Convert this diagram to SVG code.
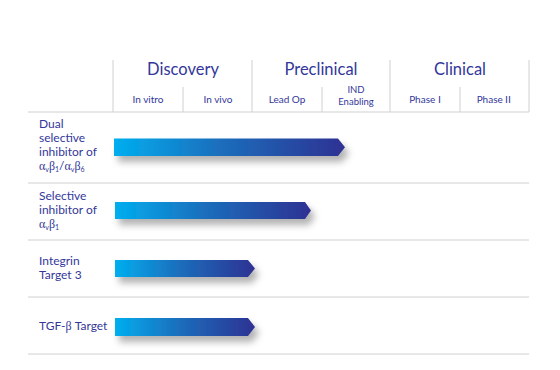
<svg xmlns="http://www.w3.org/2000/svg" width="560" height="370" viewBox="0 0 560 370">
<style>
.t{font-family:Lato,"Open Sans",sans-serif;fill:#33379a}
.h{font-size:16.5px;text-anchor:middle}
.s{font-size:10px;text-anchor:middle}
.s2{font-size:9.5px;text-anchor:middle}
.l{font-size:12px}
.g{font-family:"Liberation Serif",serif}
.sub{font-size:7px}
.ln{stroke:#d0d0d0;stroke-width:1;fill:none}
.bar{fill:url(#grad);filter:url(#sh)}
</style>
<defs>
<linearGradient id="grad" x1="0" y1="0" x2="1" y2="0">
<stop offset="0" stop-color="#00aeef"/>
<stop offset="0.45" stop-color="#1b6fbd"/>
<stop offset="1" stop-color="#2e3192"/>
</linearGradient>
<filter id="sh" x="-10%" y="-50%" width="125%" height="280%">
<feDropShadow dx="4" dy="6" stdDeviation="3.5" flood-color="#000" flood-opacity="0.3"/>
</filter>
</defs>
<rect width="560" height="370" fill="#fff"/>
<g id="grid">
<line class="ln" x1="113" y1="60" x2="113" y2="112"/>
<line class="ln" x1="252" y1="60" x2="252" y2="112"/>
<line class="ln" x1="390" y1="60" x2="390" y2="112"/>
<line class="ln" x1="529" y1="60" x2="529" y2="112"/>
<line class="ln" x1="183" y1="87" x2="183" y2="112"/>
<line class="ln" x1="322" y1="87" x2="322" y2="112"/>
<line class="ln" x1="460" y1="87" x2="460" y2="112"/>
<line class="ln" x1="28" y1="112" x2="529" y2="112"/>
<line class="ln" x1="28" y1="183" x2="529" y2="183"/>
<line class="ln" x1="28" y1="240" x2="529" y2="240"/>
<line class="ln" x1="28" y1="297" x2="529" y2="297"/>
<line class="ln" x1="28" y1="354" x2="529" y2="354"/>
</g>
<g id="header">
<text class="t h" x="183" y="75">Discovery</text>
<text class="t h" x="321" y="75">Preclinical</text>
<text class="t h" x="460" y="75">Clinical</text>
<text class="t s" x="148" y="103">In vitro</text>
<text class="t s" x="218" y="103">In vivo</text>
<text class="t s" x="287" y="103">Lead Op</text>
<text class="t s2" x="356" y="93">IND</text>
<text class="t s2" x="356" y="104.5">Enabling</text>
<text class="t s" x="425" y="103">Phase Ⅰ</text>
<text class="t s" x="494" y="103">Phase ⅠⅠ</text>
</g>
<g id="row1">
<text class="t l" x="39" y="128">Dual</text>
<text class="t l" x="39" y="142">selective</text>
<text class="t l" x="39" y="156">inhibitor of</text>
<text class="t l" x="39" y="170"><tspan class="g">α</tspan><tspan class="sub" dy="2">v</tspan><tspan class="g" dy="-2">β</tspan><tspan class="sub" dy="2">1</tspan><tspan dy="-2">/</tspan><tspan class="g">α</tspan><tspan class="sub" dy="2">v</tspan><tspan class="g" dy="-2">β</tspan><tspan class="sub" dy="2">6</tspan></text>
<path class="bar" d="M114,138.5 H338 L345,147.25 L338,156 H114 Z"/>
</g>
<g id="row2">
<text class="t l" x="39" y="200">Selective</text>
<text class="t l" x="39" y="214">inhibitor of</text>
<text class="t l" x="39" y="228"><tspan class="g">α</tspan><tspan class="sub" dy="2">v</tspan><tspan class="g" dy="-2">β</tspan><tspan class="sub" dy="2">1</tspan></text>
<path class="bar" d="M115,202 H305 L311,210.5 L305,219 H115 Z"/>
</g>
<g id="row3">
<text class="t l" x="39" y="265">Integrin</text>
<text class="t l" x="39" y="279">Target 3</text>
<path class="bar" d="M115,260 H248 L255,268.5 L248,277 H115 Z"/>
</g>
<g id="row4">
<text class="t l" x="39" y="330">TGF-<tspan class="g">β</tspan> Target</text>
<path class="bar" d="M115,318 H248 L255,327 L248,336 H115 Z"/>
</g>
</svg>
